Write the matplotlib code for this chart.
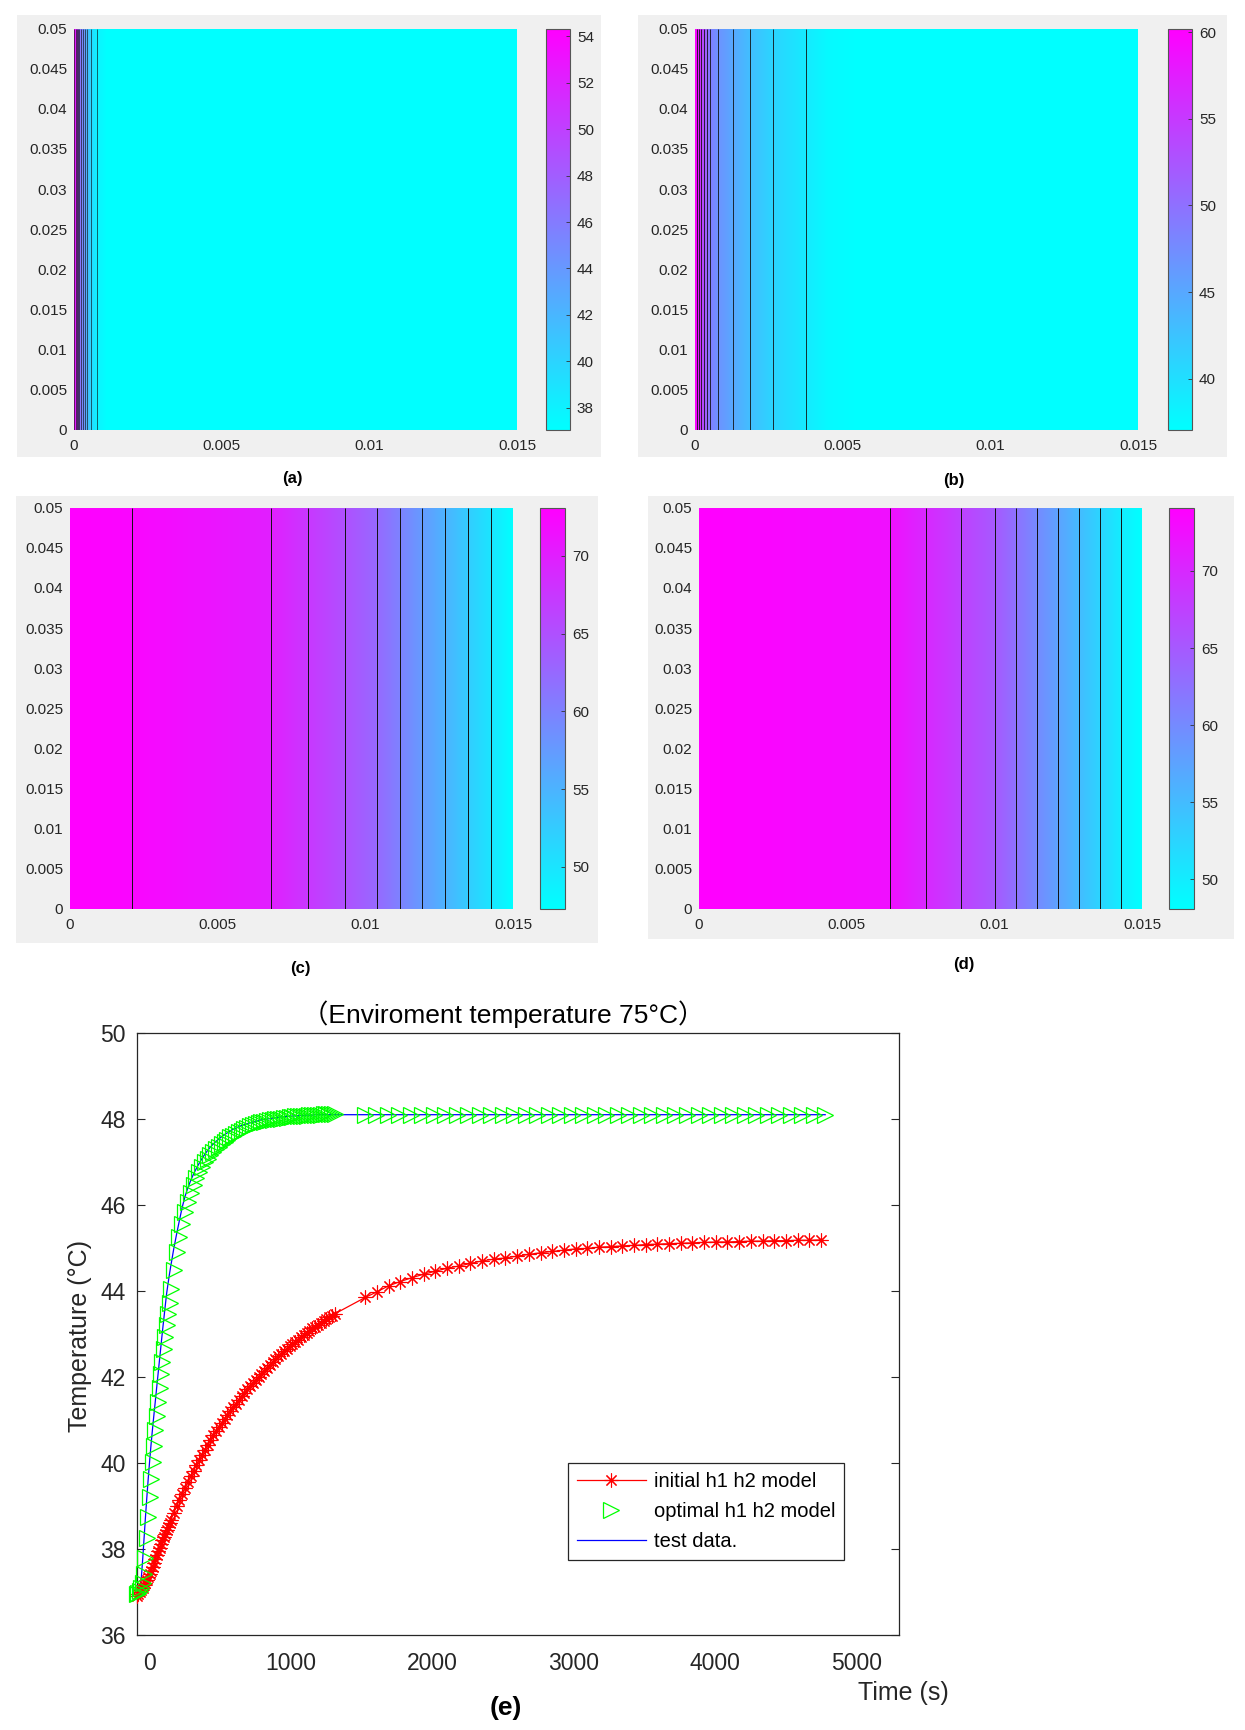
import numpy as np
import matplotlib
matplotlib.use("Agg")
import matplotlib.pyplot as plt
from matplotlib.patches import Rectangle
from matplotlib.colors import Normalize
from matplotlib.cm import ScalarMappable

plt.rcParams['font.family'] = ['Liberation Sans', 'Noto Sans CJK SC', 'DejaVu Sans']

# ---------------- data: temperature profiles T(x) of the four contour maps ----------------
xa = [0, 0.00003, 0.00006, 0.0001, 0.00014, 0.00018, 0.00023, 0.00029, 0.00036, 0.00045, 0.00056, 0.00077, 0.0011, 0.015]
Ta = [54.33, 53, 52, 50, 48, 47, 46, 45, 44, 42, 40, 38, 37.1, 37.05]
lev_a = [38, 40, 42, 44, 45, 46, 47, 48, 50, 52, 54]
rng_a = (37.05, 54.33)
cticks_a = [38, 40, 42, 44, 46, 48, 50, 52, 54]

xb = [0, 0.00007, 0.00013, 0.0002, 0.0003, 0.0004, 0.0005, 0.00077, 0.00128, 0.00186, 0.00263, 0.00376, 0.0045, 0.0055, 0.015]
Tb = [60.2, 59, 57, 55, 53, 51, 49, 47, 45, 43, 41, 39, 37.6, 37.1, 37.06]
lev_b = [39, 41, 43, 45, 47, 49, 51, 53, 55, 57, 59]
rng_b = (37.06, 60.2)
cticks_b = [40, 45, 50, 55, 60]

xc = [0, 0.0021, 0.00681, 0.00805, 0.0093, 0.01038, 0.01116, 0.01192, 0.0127, 0.01346, 0.01424, 0.015]
Tc = [73.1, 72.5, 70, 67.5, 65, 62.5, 60, 57.5, 55, 52.5, 50, 47.3]
lev_c = [50, 52.5, 55, 57.5, 60, 62.5, 65, 67.5, 70, 72.5]
rng_c = (47.3, 73.1)
cticks_c = [50, 55, 60, 65, 70]

xd = [0, 0.00647, 0.00769, 0.00886, 0.01003, 0.01074, 0.01146, 0.01217, 0.01288, 0.01359, 0.0143, 0.015]
Td = [74.1, 72.5, 70, 67.5, 65, 62.5, 60, 57.5, 55, 52.5, 50, 48.1]
lev_d = [50, 52.5, 55, 57.5, 60, 62.5, 65, 67.5, 70, 72.5]
rng_d = (48.1, 74.1)
cticks_d = [50, 55, 60, 65, 70]

map_xticks = [0, 0.005, 0.01, 0.015]
map_xticklabels = ['0', '0.005', '0.01', '0.015']
map_yticks = [0, 0.005, 0.01, 0.015, 0.02, 0.025, 0.03, 0.035, 0.04, 0.045, 0.05]
map_yticklabels = ['0', '0.005', '0.01', '0.015', '0.02', '0.025', '0.03', '0.035', '0.04', '0.045', '0.05']

# ---------------- data: temperature histories ----------------
t_dense = np.concatenate([np.arange(-90, 141, 10), np.arange(150, 1311, 20)])
t_red_sparse = np.linspace(1525, 4750, 40)
t_green_sparse = np.linspace(1520, 4780, 41)

red_dense = [36.90, 36.95, 37.00, 37.05, 37.10, 37.16, 37.22, 37.29, 37.36, 37.43, 37.50, 37.59,
             37.68, 37.77, 37.86, 37.95, 38.03, 38.12, 38.20, 38.28, 38.36, 38.44, 38.52, 38.60,
             38.68, 38.84, 38.99, 39.14, 39.28, 39.42, 39.56, 39.69, 39.82, 39.95,
             40.07, 40.19, 40.31, 40.42, 40.53, 40.64, 40.74, 40.84, 40.93, 41.03,
             41.12, 41.21, 41.30, 41.38, 41.47, 41.55, 41.63, 41.71, 41.79, 41.86,
             41.94, 42.01, 42.08, 42.15, 42.22, 42.28, 42.35, 42.41, 42.48, 42.54,
             42.60, 42.65, 42.71, 42.77, 42.82, 42.87, 42.93, 42.98, 43.03, 43.08,
             43.13, 43.17, 43.22, 43.26, 43.31, 43.35, 43.39, 43.43, 43.47]
red_sparse = [43.85, 43.98, 44.12, 44.22, 44.31, 44.39, 44.46, 44.53, 44.58, 44.64,
              44.70, 44.74, 44.77, 44.81, 44.85, 44.89, 44.92, 44.95, 44.98, 44.99,
              45.02, 45.03, 45.05, 45.06, 45.08, 45.09, 45.10, 45.11, 45.12, 45.13,
              45.14, 45.14, 45.15, 45.16, 45.16, 45.17, 45.17, 45.18, 45.18, 45.19]

green_dense = [36.95, 36.98, 37.03, 37.10, 37.22, 37.42, 37.78, 38.25, 38.75, 39.20, 39.62, 40.02,
               40.40, 40.76, 41.10, 41.43, 41.75, 42.06, 42.36, 42.65, 42.93, 43.20, 43.46, 43.71,
               44.05, 44.50, 44.90, 45.25, 45.56, 45.83, 46.07, 46.28, 46.46, 46.62,
               46.76, 46.88, 46.99, 47.08, 47.16, 47.23, 47.30, 47.36, 47.42, 47.47,
               47.52, 47.57, 47.61, 47.65, 47.69, 47.73, 47.76, 47.80, 47.83, 47.86,
               47.88, 47.90, 47.92, 47.94, 47.96, 47.97, 47.98, 47.99, 48.00, 48.01,
               48.02, 48.03, 48.04, 48.05, 48.06, 48.06, 48.07, 48.08, 48.08, 48.09,
               48.09, 48.10, 48.10, 48.10, 48.11, 48.11, 48.11, 48.11, 48.12]
green_sparse = [48.10, 48.10, 48.10, 48.10, 48.10, 48.10, 48.10, 48.10, 48.10, 48.10,
                48.10, 48.10, 48.10, 48.10, 48.10, 48.10, 48.10, 48.10, 48.10, 48.10,
                48.10, 48.10, 48.10, 48.10, 48.10, 48.10, 48.10, 48.10, 48.10, 48.10,
                48.10, 48.10, 48.10, 48.10, 48.10, 48.10, 48.10, 48.10, 48.10, 48.10, 48.10]

blue_dense = [36.98, 37.02, 37.10, 37.30, 37.75, 38.25, 38.75, 39.22, 39.66, 40.07, 40.45, 40.80,
              41.13, 41.45, 41.78, 42.10, 42.42, 42.74, 43.06, 43.36, 43.66, 43.95, 44.18, 44.40,
              44.60, 44.98, 45.32, 45.64, 45.95, 46.20, 46.40, 46.57, 46.72, 46.85,
              46.97, 47.08, 47.18, 47.27, 47.35, 47.42, 47.48, 47.54, 47.59, 47.64,
              47.68, 47.72, 47.76, 47.79, 47.82, 47.85, 47.87, 47.89, 47.91, 47.93,
              47.95, 47.96, 47.98, 47.99, 48.00, 48.01, 48.02, 48.03, 48.04, 48.05,
              48.05, 48.06, 48.06, 48.07, 48.07, 48.08, 48.08, 48.08, 48.09, 48.09,
              48.09, 48.10, 48.10, 48.10, 48.10, 48.10, 48.10, 48.10, 48.10]
blue_sparse = [48.10, 48.10, 48.10, 48.10, 48.10, 48.10, 48.10, 48.10, 48.10, 48.10,
               48.10, 48.10, 48.10, 48.10, 48.10, 48.10, 48.10, 48.10, 48.10, 48.10,
               48.10, 48.10, 48.10, 48.10, 48.10, 48.10, 48.10, 48.10, 48.10, 48.10,
               48.10, 48.10, 48.10, 48.10, 48.10, 48.10, 48.10, 48.10, 48.10, 48.10, 48.10]

temp_yticks = [36, 38, 40, 42, 44, 46, 48, 50]
time_xticks = [0, 1000, 2000, 3000, 4000, 5000]
series_labels = ['initial h1 h2 model', 'optimal h1 h2 model', 'test data.']

# ---------------- figure ----------------
W, H = 1245, 1730
fig = plt.figure(figsize=(W / 100, H / 100), dpi=100)
fig.patch.set_facecolor('white')
TXT = '#262626'


def rect(x0, y0, x1, y1):
    return [x0 / W, 1 - y1 / H, (x1 - x0) / W, (y1 - y0) / H]


def gray(x0, y0, x1, y1):
    fig.add_artist(Rectangle((x0 / W, 1 - y1 / H), (x1 - x0) / W, (y1 - y0) / H,
                             transform=fig.transFigure, facecolor='#f0f0f0',
                             edgecolor='none', zorder=-5))


def panel(r_ax, r_cb, xp, Tp, levels, rng, cticks, lw=0.7):
    vmin, vmax = rng
    ax = fig.add_axes(rect(*r_ax))
    X = np.array(xp)
    Y = np.array([0.0, 0.05])
    Z = np.vstack([Tp, Tp])
    ax.contourf(X, Y, Z, levels=np.linspace(vmin, vmax, 257), cmap='cool',
                vmin=vmin, vmax=vmax, extend='both')
    ax.contour(X, Y, Z, levels=levels, colors='#111111', linewidths=lw)
    ax.set_xlim(0, 0.015)
    ax.set_ylim(0, 0.05)
    ax.set_xticks(map_xticks)
    ax.set_xticklabels(map_xticklabels)
    ax.set_yticks(map_yticks)
    ax.set_yticklabels(map_yticklabels)
    ax.tick_params(axis='both', length=0, labelsize=11, labelcolor=TXT)
    ax.tick_params(axis='x', pad=7)
    ax.tick_params(axis='y', pad=5)
    for s in ax.spines.values():
        s.set_visible(False)
    cax = fig.add_axes(rect(*r_cb))
    cb = fig.colorbar(ScalarMappable(norm=Normalize(vmin, vmax), cmap='cool'),
                      cax=cax, ticks=cticks)
    cb.outline.set_edgecolor('#555555')
    cb.outline.set_linewidth(0.8)
    cax.tick_params(direction='in', length=3, width=0.6, labelsize=11,
                    pad=5, color='#333333', labelcolor=TXT)
    return ax


gray(16.5, 15.5, 601, 457)
gray(637.5, 15.5, 1226.5, 457)
gray(15.5, 496, 597.8, 943)
gray(647.5, 496, 1234, 938.7)

panel((74, 28.7, 517, 429.7), (546, 28.7, 570, 429.7), xa, Ta, lev_a, rng_a, cticks_a, lw=0.45)
panel((695, 28.7, 1138, 429.7), (1168, 28.7, 1192, 429.7), xb, Tb, lev_b, rng_b, cticks_b, lw=0.6)
panel((70, 507.7, 513.3, 908.7), (540, 507.7, 565, 908.7), xc, Tc, lev_c, rng_c, cticks_c)
panel((699, 507.7, 1142, 908.7), (1169, 507.7, 1194, 908.7), xd, Td, lev_d, rng_d, cticks_d)

for lab, (px, py) in zip(['(a)', '(b)', '(c)', '(d)'],
                         [(292, 478), (954, 481), (300, 968), (964, 965)]):
    fig.text(px / W, 1 - py / H, lab, ha='center', va='center',
             fontsize=12, fontweight='bold', color='black')

# ---------------- bottom line chart ----------------
ax = fig.add_axes(rect(137, 1033, 898.7, 1635))
t_red = np.concatenate([t_dense, t_red_sparse])
t_grn = np.concatenate([t_dense, t_green_sparse])
T_red = np.concatenate([red_dense, red_sparse])
T_grn = np.concatenate([green_dense, green_sparse])
T_blu = np.concatenate([blue_dense, blue_sparse])

hb, = ax.plot(t_grn, T_blu, color='#0000ff', lw=0.9, label=series_labels[2], zorder=2, clip_on=False)
hr, = ax.plot(t_red, T_red, color='#ff0000', lw=0.9, marker=(8, 2, 0), ms=10, mew=0.8,
              label=series_labels[0], zorder=3, clip_on=False)
hg, = ax.plot(t_grn, T_grn, ls='none', marker='>', ms=11.5, mfc='none', mec='#00ff00', mew=0.9,
              label=series_labels[1], zorder=4, clip_on=False)

ax.set_xlim(-90, 5300)
ax.set_ylim(36, 50)
ax.set_xticks(time_xticks)
ax.set_yticks(temp_yticks)
ax.tick_params(axis='y', direction='in', length=6, width=0.8, right=True,
               labelsize=16.5, pad=8, color=TXT, labelcolor=TXT)
ax.tick_params(axis='x', length=0, labelsize=16.5, pad=12, labelcolor=TXT)
for s in ax.spines.values():
    s.set_color(TXT)
    s.set_linewidth(0.9)

leg = ax.legend(handles=[hr, hg, hb], loc='upper left',
                bbox_to_anchor=((568 - 137) / 761.7, (1635 - 1463) / 602),
                borderaxespad=0, fontsize=14.5, frameon=True, fancybox=False,
                framealpha=1, edgecolor=TXT, borderpad=0.45, labelspacing=0.55,
                handlelength=3.4, handletextpad=0.4, numpoints=1)
leg.get_frame().set_linewidth(0.9)

fig.text(503 / W, 1 - 1014 / H, '（Enviroment temperature 75°C）', ha='center', va='center',
         fontsize=19, color='black')
fig.text(80 / W, 1 - 1336 / H, 'Temperature (°C)', rotation=90, ha='center', va='center',
         fontsize=18, color=TXT)
fig.text(903 / W, 1 - 1693 / H, 'Time (s)', ha='center', va='center', fontsize=18, color=TXT)
fig.text(506 / W, 1 - 1708 / H, '(e)', ha='center', va='center', fontsize=19,
         fontweight='bold', color='black')

fig.savefig('out.png', dpi=100)
